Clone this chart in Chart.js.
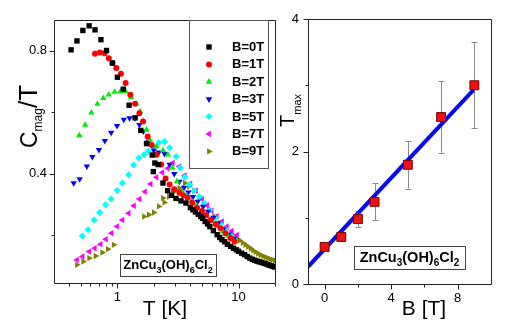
<!DOCTYPE html>
<html>
<head>
<meta charset="utf-8">
<script src="https://cdn.jsdelivr.net/npm/chart.js"></script>
<style>
  html, body { margin: 0; padding: 0; background: #fff; }
  #left { position: absolute; left: 0; top: 0; }
  #right { position: absolute; left: 278px; top: 0; }
</style>
</head>
<body>
<canvas id="left" width="282" height="325"></canvas>
<canvas id="right" width="238" height="325"></canvas>
<script>
// left panel: Cmag/T against T, one series per field
const fieldLabels = ['B=0T', 'B=1T', 'B=2T', 'B=3T', 'B=5T', 'B=7T', 'B=9T'];

const tB0 = [0.415, 0.464, 0.519, 0.585, 0.654, 0.732, 0.814, 0.911, 1.0, 1.12, 1.25, 1.40, 1.56, 1.74, 1.94, 2.04, 1.98, 2.17, 2.38, 2.6, 2.8, 3.05, 3.35, 3.68, 4.0, 4.2, 4.4, 4.65, 4.88, 5.05, 5.3, 5.55, 5.8, 6.2, 6.66, 7.0, 7.3, 7.7, 8.1, 8.6, 9.1, 9.6, 10.0, 10.6, 11.2, 11.8, 12.4, 13.0, 13.6, 14.2, 14.8, 15.4, 16.0, 16.6, 17.3, 18.0, 18.6, 19.3, 19.9];
const cB0 = [0.803, 0.832, 0.866, 0.881, 0.868, 0.836, 0.801, 0.760, 0.714, 0.675, 0.623, 0.582, 0.541, 0.498, 0.461, 0.435, 0.407, 0.430, 0.370, 0.345, 0.330, 0.320, 0.312, 0.305, 0.290, 0.283, 0.276, 0.268, 0.261, 0.255, 0.245, 0.237, 0.228, 0.215, 0.202, 0.193, 0.186, 0.179, 0.171, 0.164, 0.158, 0.153, 0.148, 0.142, 0.137, 0.131, 0.126, 0.122, 0.119, 0.116, 0.114, 0.112, 0.110, 0.108, 0.105, 0.103, 0.101, 0.099, 0.097];

const tB1 = [0.654, 0.718, 0.784, 0.85, 0.91, 0.98, 1.07, 1.17, 1.28, 1.40, 1.52, 1.63, 1.78, 1.92, 2.10, 2.3, 2.5, 2.7, 2.95, 3.25, 3.5, 3.8, 4.15, 4.55, 5.0, 5.4, 5.9, 6.5, 7.1, 7.8, 8.6, 9.3];
const cB1 = [0.790, 0.794, 0.792, 0.776, 0.760, 0.744, 0.725, 0.695, 0.657, 0.628, 0.597, 0.570, 0.521, 0.494, 0.462, 0.430, 0.385, 0.365, 0.350, 0.338, 0.330, 0.322, 0.306, 0.290, 0.279, 0.266, 0.250, 0.236, 0.223, 0.207, 0.191, 0.180];

const tB2 = [0.485, 0.542, 0.611, 0.684, 0.765, 0.85, 0.95, 1.06, 1.17, 1.30, 1.43, 1.54, 1.64, 1.74, 1.85, 2.1, 2.38, 2.61, 2.85, 3.1, 3.4, 3.75, 4.1, 4.5, 5.0, 5.5, 6.1, 6.7, 7.4, 8.2, 9.0];
const cB2 = [0.525, 0.559, 0.599, 0.627, 0.646, 0.657, 0.666, 0.668, 0.668, 0.649, 0.627, 0.603, 0.570, 0.543, 0.510, 0.489, 0.476, 0.462, 0.420, 0.375, 0.345, 0.328, 0.312, 0.296, 0.278, 0.262, 0.245, 0.229, 0.213, 0.198, 0.186];

const tB3 = [0.436, 0.488, 0.56, 0.622, 0.705, 0.789, 0.889, 0.994, 1.13, 1.26, 1.40, 1.52, 1.64, 1.81, 2.0, 2.2, 2.45, 2.7, 2.95, 3.25, 3.55, 3.85, 4.2, 4.6, 5.1, 5.6, 6.2, 6.8, 7.5, 8.3, 9.1];
const cB3 = [0.370, 0.383, 0.424, 0.455, 0.478, 0.507, 0.534, 0.556, 0.576, 0.581, 0.581, 0.559, 0.538, 0.505, 0.476, 0.470, 0.465, 0.430, 0.400, 0.375, 0.355, 0.340, 0.325, 0.310, 0.293, 0.277, 0.258, 0.240, 0.220, 0.203, 0.190];

const tB5 = [0.513, 0.573, 0.642, 0.713, 0.799, 0.889, 0.994, 1.10, 1.24, 1.36, 1.50, 1.66, 1.80, 1.97, 2.2, 2.45, 2.7, 3.05, 3.3, 3.6, 3.95, 4.3, 4.75, 5.2, 5.8, 6.45, 7.1, 7.8, 8.6, 9.3];
const cB5 = [0.198, 0.218, 0.250, 0.274, 0.299, 0.318, 0.346, 0.370, 0.397, 0.429, 0.451, 0.462, 0.473, 0.489, 0.502, 0.505, 0.485, 0.456, 0.420, 0.390, 0.365, 0.345, 0.325, 0.305, 0.282, 0.256, 0.238, 0.220, 0.200, 0.185];

const tB7 = [0.464, 0.516, 0.585, 0.65, 0.727, 0.803, 0.894, 0.994, 1.10, 1.24, 1.37, 1.52, 1.69, 1.88, 2.10, 2.35, 2.61, 2.87, 3.25, 3.6, 4.0, 4.45, 5.0, 5.5, 6.0, 6.6, 7.3, 8.0, 8.8, 9.7];
const cB7 = [0.120, 0.131, 0.147, 0.158, 0.171, 0.187, 0.207, 0.229, 0.250, 0.272, 0.296, 0.318, 0.342, 0.367, 0.389, 0.404, 0.418, 0.435, 0.424, 0.395, 0.368, 0.345, 0.318, 0.298, 0.280, 0.262, 0.245, 0.229, 0.214, 0.201];

const tB9 = [0.464, 0.522, 0.585, 0.66, 0.75, 0.834, 0.933, 1.66, 1.82, 2.0, 2.2, 2.38, 2.44, 2.66, 2.87, 3.25, 3.6, 3.9, 4.3, 4.75, 5.19, 5.7, 6.3, 7.1, 7.9, 8.8, 9.7, 10.2, 10.8, 11.4, 12.0, 12.6, 13.2, 13.8, 14.5, 15.2, 16.0, 16.7, 17.5, 18.2, 19.0, 19.9];
const cB9 = [0.104, 0.115, 0.126, 0.133, 0.144, 0.155, 0.169, 0.261, 0.267, 0.274, 0.294, 0.321, 0.307, 0.326, 0.339, 0.353, 0.370, 0.359, 0.345, 0.322, 0.300, 0.282, 0.262, 0.240, 0.220, 0.203, 0.190, 0.183, 0.176, 0.169, 0.163, 0.157, 0.151, 0.146, 0.141, 0.136, 0.132, 0.129, 0.126, 0.123, 0.121, 0.118];

const tSeries = [tB0, tB1, tB2, tB3, tB5, tB7, tB9];
const cSeries = [cB0, cB1, cB2, cB3, cB5, cB7, cB9];

const xTicksL = [0.4, 0.5, 0.6, 0.7, 0.8, 0.9, 1, 2, 3, 4, 5, 6, 7, 8, 9, 10, 20];
const xLabelsL = [1, 10];
const yTicksL = [0.2, 0.4, 0.6, 0.8];
const yLabelsL = [0.4, 0.8];

// right panel: peak temperature against field, with linear fit
const fieldB = [0, 1, 2, 3, 5, 7, 9];
const tMax = [0.56, 0.71, 0.98, 1.24, 1.80, 2.52, 3.00];
const tMaxErr = [0.04, 0.05, 0.12, 0.28, 0.36, 0.54, 0.65];
const fitB = [-1, 8.95];
const fitT = [0.26, 2.93];

const xTicksR = [0, 2, 4, 6, 8];
const xLabelsR = [0, 4, 8];
const yTicksR = [0, 1, 2, 3, 4];
const yLabelsR = [0, 2, 4];

// marker styles per series
const seriesStyle = [
  { color: '#000000', shape: 'rect', rot: 0, r: 3.8 },
  { color: '#ff0000', shape: 'circle', rot: 0, r: 3.0 },
  { color: '#00ee00', shape: 'triangle', rot: 0, r: 3.7 },
  { color: '#0000ff', shape: 'triangle', rot: 180, r: 3.7 },
  { color: '#00ffff', shape: 'rectRot', rot: 0, r: 3.5 },
  { color: '#ff00ff', shape: 'triangle', rot: 270, r: 3.7 },
  { color: '#808000', shape: 'triangle', rot: 90, r: 3.7 },
];

const FONT = 'Arial, "Liberation Sans", sans-serif';
Chart.defaults.font.family = FONT;
Chart.defaults.color = '#000';

function richText(ctx, parts, x, y, angle) {
  ctx.save();
  ctx.translate(x, y);
  ctx.rotate(angle || 0);
  ctx.textAlign = 'left';
  ctx.textBaseline = 'alphabetic';
  ctx.fillStyle = '#000';
  let cx = 0;
  parts.forEach(p => {
    ctx.font = (p.bold ? 'bold ' : '') + p.size + 'px ' + FONT;
    ctx.fillText(p.t, cx, p.dy || 0);
    cx += ctx.measureText(p.t).width;
  });
  ctx.restore();
}

function richWidth(ctx, parts) {
  let w = 0;
  ctx.save();
  parts.forEach(p => {
    ctx.font = (p.bold ? 'bold ' : '') + p.size + 'px ' + FONT;
    w += ctx.measureText(p.t).width;
  });
  ctx.restore();
  return w;
}

function formulaParts(big, small) {
  return [
    { t: 'ZnCu', size: big, bold: true },
    { t: '3', size: small, bold: true, dy: 4 },
    { t: '(OH)', size: big, bold: true },
    { t: '6', size: small, bold: true, dy: 4 },
    { t: 'Cl', size: big, bold: true },
    { t: '2', size: small, bold: true, dy: 4 },
  ];
}

function formulaBox(ctx, x1, y1, x2, y2, big, small) {
  ctx.save();
  ctx.fillStyle = '#fff';
  ctx.fillRect(x1, y1, x2 - x1, y2 - y1);
  ctx.strokeStyle = '#444';
  ctx.lineWidth = 1;
  ctx.strokeRect(x1 + 0.5, y1 + 0.5, x2 - x1, y2 - y1);
  ctx.restore();
  const parts = formulaParts(big, small);
  const w = richWidth(ctx, parts);
  richText(ctx, parts, (x1 + x2) / 2 - w / 2, (y1 + y2) / 2 + big * 0.33);
}

// frame round the plot area plus outward tick marks
function framePlugin(xMajor, yMajor) {
  return {
    id: 'frame',
    afterDatasetsDraw(chart) {
      const { ctx, chartArea: a, scales } = chart;
      ctx.save();
      ctx.strokeStyle = '#222';
      ctx.lineWidth = 1;
      ctx.beginPath();
      ctx.rect(Math.round(a.left) + 0.5, Math.round(a.top) + 0.5, Math.round(a.right - a.left), Math.round(a.bottom - a.top));
      scales.x.ticks.forEach(t => {
        const px = Math.round(scales.x.getPixelForValue(t.value)) + 0.5;
        const len = xMajor.includes(t.value) ? 5 : 3;
        ctx.moveTo(px, Math.round(a.bottom) + 0.5);
        ctx.lineTo(px, Math.round(a.bottom) + 0.5 + len);
      });
      scales.y.ticks.forEach(t => {
        const py = Math.round(scales.y.getPixelForValue(t.value)) + 0.5;
        const len = yMajor.includes(t.value) ? 5 : 3;
        ctx.moveTo(Math.round(a.left) + 0.5, py);
        ctx.lineTo(Math.round(a.left) + 0.5 - len, py);
      });
      ctx.stroke();
      ctx.restore();
    }
  };
}

function drawMarker(ctx, st, x, y) {
  ctx.fillStyle = st.color;
  if (Chart.helpers && Chart.helpers.drawPoint) {
    Chart.helpers.drawPoint(ctx, { pointStyle: st.shape, rotation: st.rot, radius: st.r, borderWidth: 0 }, x, y);
  } else {
    ctx.beginPath();
    ctx.arc(x, y, st.r, 0, Math.PI * 2);
    ctx.fill();
  }
}

const leftDecor = {
  id: 'leftDecor',
  afterDraw(chart) {
    const ctx = chart.ctx;
    // legend box
    ctx.save();
    ctx.fillStyle = '#fff';
    ctx.fillRect(189, 21, 79, 148);
    ctx.strokeStyle = '#555';
    ctx.lineWidth = 1;
    ctx.strokeRect(189.5, 20.5, 79, 148);
    ctx.font = 'bold 13px ' + FONT;
    ctx.textBaseline = 'middle';
    ctx.textAlign = 'left';
    chart.data.datasets.forEach((ds, i) => {
      const y = 47 + i * 17.4;
      ctx.save();
      drawMarker(ctx, seriesStyle[i], 209, y);
      ctx.restore();
      ctx.fillStyle = '#000';
      ctx.fillText(ds.label, 232, y + 0.5);
    });
    ctx.restore();

    formulaBox(ctx, 120, 254, 216, 276, 13, 9);

    // axis titles
    richText(ctx, [
      { t: 'C', size: 23 },
      { t: 'mag', size: 12, dy: 5 },
      { t: '/T', size: 26 },
    ], 37, 148, -Math.PI / 2);
    ctx.save();
    ctx.font = '21px ' + FONT;
    ctx.textAlign = 'center';
    ctx.textBaseline = 'alphabetic';
    ctx.fillStyle = '#000';
    ctx.fillText('T [K]', 165, 315);
    ctx.restore();
  }
};

const rightDecor = {
  id: 'rightDecor',
  beforeDatasetsDraw(chart) {
    const { ctx, scales } = chart;
    ctx.save();
    ctx.strokeStyle = '#8a8a8a';
    ctx.lineWidth = 1;
    ctx.beginPath();
    fieldB.forEach((b, i) => {
      const px = Math.round(scales.x.getPixelForValue(b)) + 0.5;
      const y1 = scales.y.getPixelForValue(tMax[i] - tMaxErr[i]);
      const y2 = scales.y.getPixelForValue(tMax[i] + tMaxErr[i]);
      ctx.moveTo(px, y1); ctx.lineTo(px, y2);
      ctx.moveTo(px - 3, Math.round(y1) + 0.5); ctx.lineTo(px + 3, Math.round(y1) + 0.5);
      ctx.moveTo(px - 3, Math.round(y2) + 0.5); ctx.lineTo(px + 3, Math.round(y2) + 0.5);
    });
    ctx.stroke();
    ctx.restore();
  },
  afterDraw(chart) {
    const ctx = chart.ctx;
    formulaBox(ctx, 76, 246, 187, 269, 14.5, 10);
    richText(ctx, [
      { t: 'T', size: 20 },
      { t: 'max', size: 11, dy: 7 },
    ], 15.5, 127, -Math.PI / 2);
    ctx.save();
    ctx.font = '21px ' + FONT;
    ctx.textAlign = 'center';
    ctx.textBaseline = 'alphabetic';
    ctx.fillStyle = '#000';
    ctx.fillText('B [T]', 146, 315);
    ctx.restore();
  }
};

function fmt(v) {
  return Number.isInteger(v) ? String(v) : v.toFixed(1);
}

new Chart(document.getElementById('left'), {
  type: 'scatter',
  data: {
    datasets: fieldLabels.map((lab, i) => ({
      label: lab,
      data: tSeries[i].map((t, j) => ({ x: t, y: cSeries[i][j] })),
      pointStyle: seriesStyle[i].shape,
      rotation: seriesStyle[i].rot,
      pointRadius: seriesStyle[i].r,
      backgroundColor: seriesStyle[i].color,
      borderWidth: 0,
    })),
  },
  options: {
    responsive: false,
    devicePixelRatio: 1,
    animation: false,
    layout: { padding: { left: 0, right: 5, top: 20, bottom: 0 } },
    plugins: { legend: { display: false }, tooltip: { enabled: false } },
    scales: {
      x: {
        type: 'logarithmic', min: 0.3, max: 20,
        grid: { display: false, drawTicks: false }, border: { display: false },
        afterBuildTicks: s => { s.ticks = xTicksL.map(v => ({ value: v })); },
        afterFit: s => { s.height = 42; },
        ticks: { autoSkip: false, maxRotation: 0, padding: 7, font: { size: 13 }, color: '#000',
          callback: v => xLabelsL.includes(v) ? fmt(v) : '' },
      },
      y: {
        min: 0.045, max: 0.9,
        grid: { display: false, drawTicks: false }, border: { display: false },
        afterBuildTicks: s => { s.ticks = yTicksL.map(v => ({ value: v })); },
        afterFit: s => { s.width = 54; },
        ticks: { autoSkip: false, padding: 7, font: { size: 13 }, color: '#000',
          callback: v => yLabelsL.includes(v) ? fmt(v) : '' },
      },
    },
  },
  plugins: [framePlugin(xLabelsL, yLabelsL), leftDecor],
});

new Chart(document.getElementById('right'), {
  type: 'scatter',
  data: {
    datasets: [
      {
        label: 'Tmax',
        data: fieldB.map((b, i) => ({ x: b, y: tMax[i] })),
        pointStyle: 'rect',
        pointRadius: 6.3,
        backgroundColor: '#ee1111',
        borderColor: '#7a0000',
        borderWidth: 1,
        order: 0,
      },
      {
        label: 'fit',
        data: fitB.map((b, i) => ({ x: b, y: fitT[i] })),
        showLine: true,
        pointRadius: 0,
        borderColor: '#0a0aee',
        borderWidth: 4,
        order: 1,
      },
    ],
  },
  options: {
    responsive: false,
    devicePixelRatio: 1,
    animation: false,
    layout: { padding: { left: 0, right: 25, top: 19, bottom: 0 } },
    plugins: { legend: { display: false }, tooltip: { enabled: false } },
    scales: {
      x: {
        min: -1, max: 10,
        grid: { display: false, drawTicks: false }, border: { display: false },
        afterBuildTicks: s => { s.ticks = xTicksR.map(v => ({ value: v })); },
        afterFit: s => { s.height = 41; },
        ticks: { autoSkip: false, maxRotation: 0, padding: 7, font: { size: 13 }, color: '#000',
          callback: v => xLabelsR.includes(v) ? fmt(v) : '' },
      },
      y: {
        min: 0, max: 4,
        grid: { display: false, drawTicks: false }, border: { display: false },
        afterBuildTicks: s => { s.ticks = yTicksR.map(v => ({ value: v })); },
        afterFit: s => { s.width = 30; },
        ticks: { autoSkip: false, padding: 9, font: { size: 13 }, color: '#000',
          callback: v => yLabelsR.includes(v) ? fmt(v) : '' },
      },
    },
  },
  plugins: [framePlugin(xLabelsR, yLabelsR), rightDecor],
});
</script>
</body>
</html>
